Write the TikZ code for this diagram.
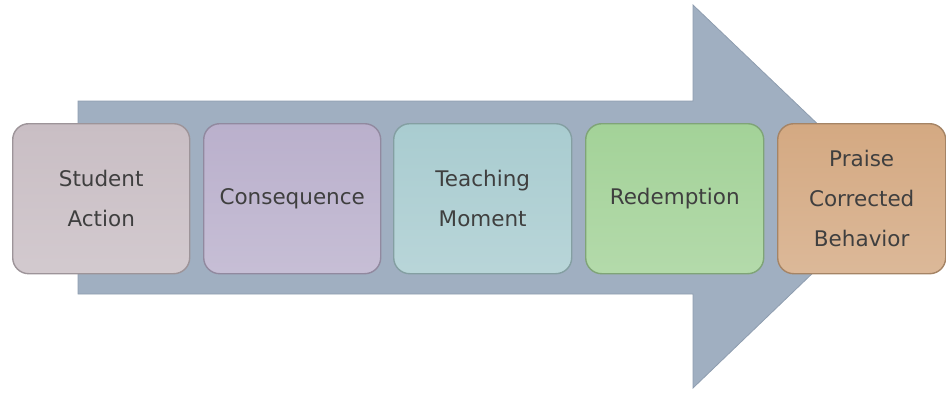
\documentclass[tikz,border=0pt]{standalone}
\usepackage{fontspec}
\setmainfont{DejaVu Sans}
\usepackage{xcolor}
\usepackage{tikz}
\usetikzlibrary{positioning,calc}
\definecolor{ArrowBlue}{HTML}{A0AFC1}
\definecolor{ArrowEdge}{HTML}{8E9DAF}
\definecolor{TextGrey}{HTML}{3F3F3F}
\definecolor{StepMauve}{HTML}{C9BEC4}
\definecolor{StepLilac}{HTML}{BAB0CC}
\definecolor{StepTeal}{HTML}{A9CCD0}
\definecolor{StepGreen}{HTML}{A3D298}
\definecolor{StepTan}{HTML}{D4A982}

\tikzset{
  stepbox/.style={rectangle, rounded corners=16pt, line width=1.4pt,
    minimum height=150pt, inner sep=0pt, align=center, text=TextGrey,
    font=\fontsize{21.5}{40}\selectfont}
}

\begin{document}
\begin{tikzpicture}[x=1pt, y=-1pt]
    \useasboundingbox (0,0) rectangle (946,392);
    % big arrow behind the steps
    \coordinate (tail top) at (78,101);
    \coordinate (tail bot) at (78,294);
    \coordinate (tip) at (893,196);
    \fill[ArrowBlue] (tail top) -- (693,101) -- (693,5) -- (tip)
      -- (693,388) -- (693,294) -- (tail bot) -- cycle;
    \draw[ArrowEdge, line width=0.8pt] (tail top) -- (693,101) -- (693,5) -- (tip)
      -- (693,388) -- (693,294) -- (tail bot) -- cycle;
    % the five steps
    \foreach \name/\x/\w/\col/\txt in {
        action/12/177/StepMauve/{Student\\Action},
        conseq/203/177/StepLilac/{Consequence},
        teach/393/178/StepTeal/{Teaching\\Moment},
        redeem/585/178/StepGreen/{Redemption},
        praise/777/168/StepTan/{Praise\\Corrected\\Behavior}} {
      \node[stepbox, anchor=north west, minimum width=\w pt,
        draw=\col!78!black, top color=\col, bottom color=\col!82!white]
        (\name) at (\x,123) {\txt};
    }
  \end{tikzpicture}
\end{document}
